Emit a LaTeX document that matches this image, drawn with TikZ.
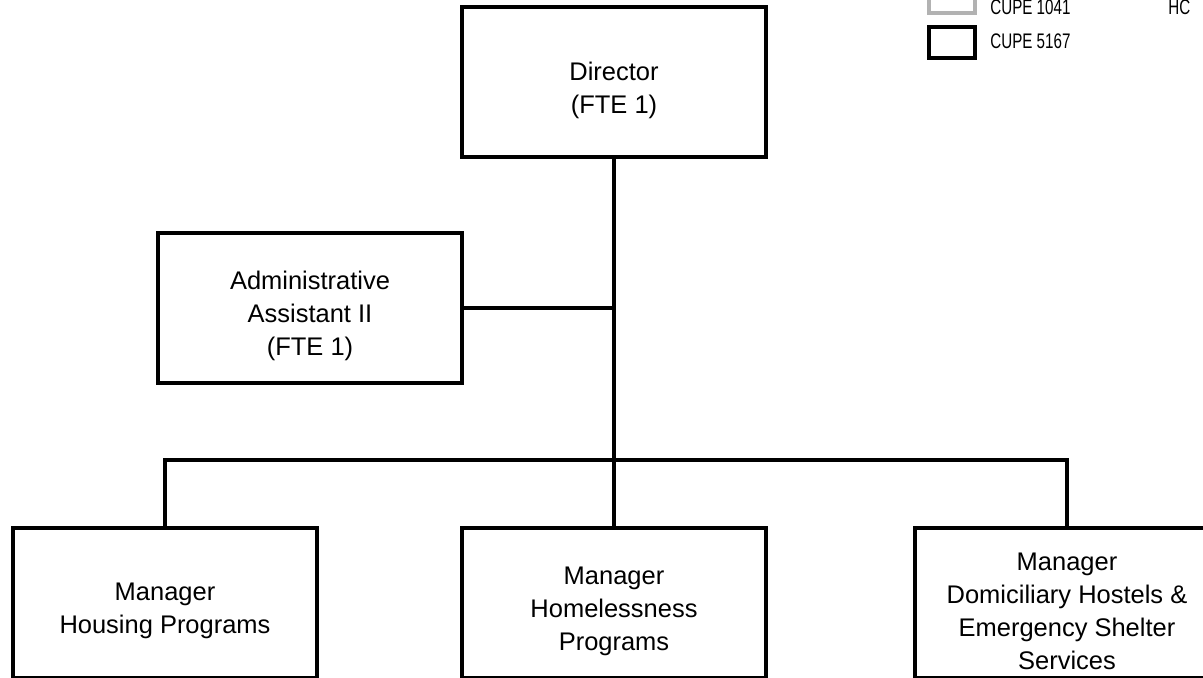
\documentclass[tikz,border=0pt]{standalone}
\usepackage{fontspec}
\setmainfont{Liberation Sans}
\newfontfamily\narrowfont[FakeStretch=0.72]{Liberation Sans}

\begin{document}
\begin{tikzpicture}[
    x=0.02cm, y=-0.02cm,
    box/.style={rectangle, draw, line width=2.2pt, minimum width=6.08cm, minimum height=3cm, inner sep=0pt},
    txt/.style={align=center, font=\fontsize{14.5}{18.8}\selectfont, yshift=-0.16cm},
    conn/.style={line width=2.2pt},
    legbox/.style={draw, line width=1.8pt},
    legtxt/.style={font=\narrowfont\fontsize{12}{14}\selectfont, anchor=base west, inner sep=0pt}
]
    \useasboundingbox (0,0) rectangle (1203,677);
    \clip (0,0) rectangle (1203,677);

    % Legenda
    \draw[legbox, gray!60] (929,-10) rectangle (975,13);
    \draw[legbox] (929,27) rectangle (975,58);
    \node[legtxt] (l1041) at (990,14) {CUPE 1041};
    \node[legtxt] (lhc) at (1168,14) {HC};
    \node[legtxt] (l5167) at (990,48) {CUPE 5167};

    % Caixes
    \node[box, label={[txt]center:{Director\\(FTE 1)}}] (dir) at (614,82) {};
    \node[box, label={[txt]center:{Administrative\\Assistant II\\(FTE 1)}}] (adm) at (310,308) {};
    \node[box, label={[txt]center:{Manager\\Housing Programs}}] (hsg) at (165,603) {};
    \node[box, label={[txt]center:{Manager\\Homelessness\\Programs}}] (hml) at (614,603) {};
    \node[box, label={[txt]center:{Manager\\Domiciliary Hostels \&\\Emergency Shelter\\Services}}] (dom) at (1067,603) {};

    % Connectors
    \coordinate (bar) at (614,460);
    \draw[conn] (dir.south) -- (bar);
    \draw[conn] (adm.east) -- (adm.east -| dir.south);
    \draw[conn] (hsg.north) |- (bar) -| (dom.north);
    \draw[conn] (bar) -- (hml.north);
\end{tikzpicture}
\end{document}
